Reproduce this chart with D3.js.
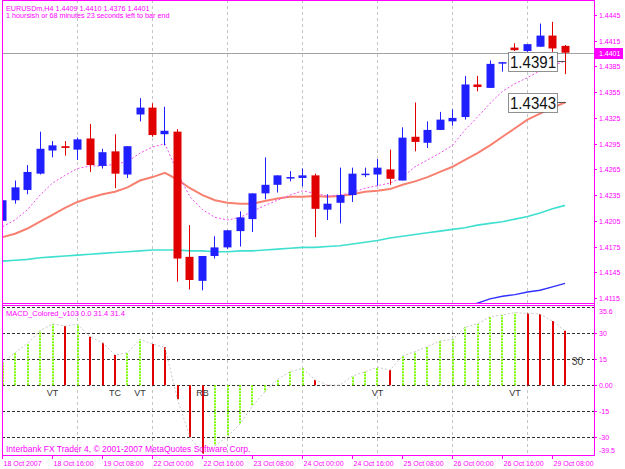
<!DOCTYPE html>
<html>
<head>
<meta charset="utf-8">
<script src="https://cdn.jsdelivr.net/npm/d3@7"></script>
<style>
body { margin: 0; background: #fff; }
text { font-family: "Liberation Sans", Arial, sans-serif; }
</style>
</head>
<body>
<svg width="625" height="469"></svg>
<script>
// EURUSDm H4, 18 Oct 2007 00:00 .. 29 Oct 2007 12:00 (46 bars)
var opens  = [1.4205,1.4229,1.4241,1.4260,1.4287,1.4292,1.4288,1.4301,1.4269,1.4286,1.4259,1.4329,1.4337,1.4306,1.4309,1.4163,1.4135,1.4164,1.4174,1.4193,1.4207,1.4237,1.4247,1.4255,1.4255,1.4258,1.4218,1.4226,1.4235,1.4259,1.4259,1.4265,1.4252,1.4303,1.4296,1.4311,1.4321,1.4326,1.4364,1.4360,1.4389,1.4407,1.4403,1.4408,1.4421,1.4409]
var highs  = [1.4234,1.4252,1.4270,1.4309,1.4298,1.4298,1.4302,1.4318,1.4289,1.4306,1.4292,1.4348,1.4342,1.4338,1.4312,1.4200,1.4164,1.4187,1.4194,1.4216,1.4237,1.4279,1.4258,1.4263,1.4266,1.4260,1.4236,1.4267,1.4267,1.4267,1.4277,1.4288,1.4314,1.4343,1.4321,1.4332,1.4335,1.4374,1.4374,1.4392,1.4390,1.4412,1.4411,1.4435,1.4437,1.4410]
var lows   = [1.4200,1.4225,1.4236,1.4259,1.4279,1.4281,1.4276,1.4262,1.4266,1.4243,1.4255,1.4321,1.4303,1.4293,1.4134,1.4125,1.4124,1.4161,1.4172,1.4175,1.4192,1.4230,1.4238,1.4251,1.4245,1.4186,1.4206,1.4202,1.4227,1.4256,1.4246,1.4247,1.4252,1.4286,1.4290,1.4311,1.4316,1.4323,1.4356,1.4360,1.4379,1.4403,1.4402,1.4408,1.4402,1.4376]
var closes = [1.4229,1.4244,1.4262,1.4289,1.4293,1.4290,1.4300,1.4270,1.4285,1.4260,1.4292,1.4337,1.4305,1.4310,1.4161,1.4136,1.4164,1.4174,1.4194,1.4209,1.4237,1.4247,1.4258,1.4256,1.4258,1.4219,1.4225,1.4235,1.4260,1.4260,1.4267,1.4254,1.4302,1.4297,1.4311,1.4323,1.4325,1.4364,1.4361,1.4388,1.4390,1.4404,1.4411,1.4421,1.4406,1.4401]

// moving averages
var maFast = [1.4198,1.4206,1.4218,1.4235,1.4249,1.4258,1.4266,1.4269,1.4269,1.4271,1.4274,1.4284,1.4291,1.4295,1.4261,1.4233,1.4218,1.4209,1.4206,1.4209,1.4216,1.4223,1.4229,1.4235,1.4240,1.4237,1.4234,1.4235,1.4238,1.4243,1.4246,1.4249,1.4256,1.4268,1.4276,1.4284,1.4293,1.4311,1.4326,1.4342,1.4356,1.4365,1.4372,1.4380,1.4386,1.4391]
var maMid  = [1.4186,1.4190,1.4196,1.4204,1.4212,1.4220,1.4227,1.4232,1.4236,1.4239,1.4244,1.4252,1.4256,1.4261,1.4253,1.4243,1.4235,1.4229,1.4226,1.4225,1.4225,1.4228,1.4231,1.4233,1.4233,1.4234,1.4233,1.4234,1.4236,1.4239,1.4240,1.4242,1.4247,1.4251,1.4256,1.4262,1.4268,1.4276,1.4284,1.4293,1.4303,1.4313,1.4323,1.4330,1.4337,1.4343]
var maSlow = [1.4158,1.4159,1.4160,1.4162,1.4163,1.4164,1.4165,1.4166,1.4167,1.4168,1.4169,1.4170,1.4171,1.4171,1.4171,1.4170,1.4170,1.4169,1.4169,1.4170,1.4170,1.4171,1.4172,1.4173,1.4174,1.4174,1.4175,1.4176,1.4178,1.4180,1.4182,1.4185,1.4187,1.4189,1.4191,1.4193,1.4195,1.4197,1.4200,1.4202,1.4204,1.4207,1.4210,1.4214,1.4219,1.4223]
var maLong = [null,null,null,null,null,null,null,null,null,null,null,null,null,null,null,null,null,null,null,null,null,null,null,null,null,null,null,null,null,null,null,null,null,null,null,null,1.4100,1.4104,1.4109,1.4114,1.4117,1.4119,1.4122,1.4124,1.4128,1.4132]

// MACD_Colored histogram
var macd = [13.0,18.8,24.2,31.5,35.4,34.2,35.2,28.0,24.6,17.5,18.8,26.5,23.8,21.9,-8.1,-30.0,-39.5,-34.8,-29.6,-22.3,-11.9,-3.7,3.5,7.8,9.8,3.1,0.2,0.1,5.4,7.8,10.4,8.8,16.9,19.4,22.3,25.6,26.5,33.5,35.4,39.6,40.6,41.9,41.5,41.1,37.1,31.5]
var macdLevels = [45, 30, 15, 0, -15, -30]
var macdTicks = [30, 15, 0, -15, -30]
var macdTickText = ["30", "15", "0.00", "-15", "-30"]
var signalIdx = [4, 9, 11, 16, 30, 41]
var signalText = ["VT", "TC", "VT", "RB", "VT", "VT"]

var priceTicks = [1.4445,1.4415,1.4385,1.4355,1.4325,1.4295,1.4265,1.4235,1.4205,1.4175,1.4145,1.4115]
var timeIdx = [0,4,8,12,16,20,24,28,32,36,40,44]
var timeText = ["18 Oct 2007","18 Oct 16:00","19 Oct 08:00","22 Oct 00:00","22 Oct 16:00","23 Oct 08:00","24 Oct 00:00","24 Oct 16:00","25 Oct 08:00","26 Oct 00:00","26 Oct 16:00","29 Oct 08:00"]
var gridIdx = [6,12,18,24,30,36,42]
var lastPrice = 1.4401

var pink = "#f0f", blueC = "#1f1fff", redC = "#e00000", greenC = "#7cfc00"

var svg = d3.select("svg")
svg.append("rect").attr("width", 625).attr("height", 469).attr("fill", "#fff")

var x = d3.scaleLinear().domain([0, 45]).range([2.5, 565])
var y = d3.scaleLinear().domain([1.4115, 1.4445]).range([298, 15])
var ym = d3.scaleLinear().domain([-30, 30]).range([437.3, 333.3])

var defs = svg.append("defs")
defs.append("clipPath").attr("id", "cmain").append("rect").attr("x", 2.5).attr("y", 0).attr("width", 591.5).attr("height", 303)
defs.append("clipPath").attr("id", "cmacd").append("rect").attr("x", 2.5).attr("y", 305).attr("width", 591.5).attr("height", 150.5)

// vertical grid
svg.append("g").selectAll("line").data(gridIdx).enter().append("line")
    .attr("x1", d => Math.floor(x(d)) + 0.5).attr("x2", d => Math.floor(x(d)) + 0.5)
    .attr("y1", 0).attr("y2", 455)
    .attr("stroke", "#c4c4c4").attr("stroke-dasharray", "3,3")

// ---- main panel
var mainG = svg.append("g").attr("clip-path", "url(#cmain)")

mainG.append("line").attr("x1", 2).attr("x2", 594)
    .attr("y1", Math.round(y(lastPrice)) + 0.5).attr("y2", Math.round(y(lastPrice)) + 0.5)
    .attr("stroke", "#a0a4a8")

function maLine(arr, color, w, dash) {
    var line = d3.line().defined(d => d != null).x((d, i) => x(i)).y(d => y(d))
    mainG.append("path").attr("d", line(arr)).attr("fill", "none")
        .attr("stroke", color).attr("stroke-width", w)
        .attr("stroke-dasharray", dash)
}
maLine(maSlow, "#40e0d0", 1.6, null)
maLine(maLong, "#3030ff", 1.4, null)
maLine(maMid, "#f88070", 2, null)
maLine(maFast, "#f050f0", 1, "2,2")

var candles = mainG.append("g")
opens.forEach((o, i) => {
    var c = closes[i]
    var col = c >= o ? blueC : redC
    var cx = Math.floor(x(i))
    candles.append("line").attr("x1", cx + 0.5).attr("x2", cx + 0.5)
        .attr("y1", y(highs[i])).attr("y2", y(lows[i])).attr("stroke", col)
    var top = y(Math.max(o, c)), h = Math.max(1.5, y(Math.min(o, c)) - top)
    candles.append("rect").attr("x", cx - 3.5).attr("y", top).attr("width", 8).attr("height", h)
        .attr("fill", col)
})

// value boxes for the two MAs
var boxes = [maFast[45], maMid[45]]
boxes.forEach(v => {
    var yy = y(v)
    mainG.append("line").attr("x1", 557).attr("x2", 566).attr("y1", Math.round(yy) + 0.5).attr("y2", Math.round(yy) + 0.5)
        .attr("stroke", "#555")
    mainG.append("rect").attr("x", 508.5).attr("y", Math.round(yy) - 8.5).attr("width", 49).attr("height", 19)
        .attr("fill", "#fff").attr("stroke", "#222").attr("stroke-dasharray", "1,1")
    mainG.append("text").attr("x", 510).attr("y", Math.round(yy) + 7)
        .attr("font-size", 17).attr("textLength", 46).attr("lengthAdjust", "spacingAndGlyphs")
        .attr("fill", "#111").text(v.toFixed(4))
})

// ---- MACD panel
var macdG = svg.append("g").attr("clip-path", "url(#cmacd)")
macdG.selectAll(".lvl").data(macdLevels).enter().append("line")
    .attr("x1", 2).attr("x2", 594)
    .attr("y1", d => Math.round(ym(d)) + 0.5).attr("y2", d => Math.round(ym(d)) + 0.5)
    .attr("stroke", "#333").attr("stroke-dasharray", "3,2")

macdG.selectAll(".bar").data(macd).enter().append("line")
    .attr("x1", (d, i) => Math.round(x(i))).attr("x2", (d, i) => Math.round(x(i)))
    .attr("y1", ym(0)).attr("y2", d => ym(d))
    .attr("stroke-width", 2)
    .attr("stroke", (d, i) => (i == 0 || d >= macd[i - 1]) ? greenC : redC)
    .attr("stroke-dasharray", (d, i) => (i == 0 || d >= macd[i - 1]) ? "2,1" : null)

macdG.append("path").attr("d", d3.line().x((d, i) => x(i)).y(d => ym(d))(macd))
    .attr("fill", "none").attr("stroke", "#c8c8c8").attr("stroke-dasharray", "2,2")

macdG.selectAll(".sig").data(signalIdx).enter().append("text")
    .attr("x", d => x(d)).attr("y", 395.5).attr("text-anchor", "middle")
    .attr("font-size", 9).attr("fill", "#333")
    .text((d, i) => signalText[i])

macdG.append("text").attr("x", 577.5).attr("y", 365).attr("text-anchor", "middle")
    .attr("font-size", 10.5).attr("fill", "#444").text("30")

// ---- frame and axes
var frame = svg.append("g").attr("stroke", pink).attr("fill", "none")
frame.append("line").attr("x1", 2.5).attr("x2", 2.5).attr("y1", 0).attr("y2", 456)
frame.append("line").attr("x1", 594.5).attr("x2", 594.5).attr("y1", 0).attr("y2", 456)
frame.append("line").attr("x1", 2).attr("x2", 595).attr("y1", 0.5).attr("y2", 0.5)
frame.append("line").attr("x1", 2).attr("x2", 595).attr("y1", 303.5).attr("y2", 303.5)
frame.append("line").attr("x1", 2).attr("x2", 595).attr("y1", 305.5).attr("y2", 305.5)
frame.append("line").attr("x1", 2).attr("x2", 595).attr("y1", 455.5).attr("y2", 455.5)

// price axis
var pax = svg.append("g")
priceTicks.forEach(v => {
    var yy = Math.round(y(v)) + 0.5
    pax.append("line").attr("x1", 594).attr("x2", 597).attr("y1", yy).attr("y2", yy).attr("stroke", pink)
    pax.append("text").attr("x", 599).attr("y", yy + 2.5).attr("font-size", 7).attr("fill", pink).text(v.toFixed(4))
})
var ly = Math.round(y(lastPrice))
pax.append("rect").attr("x", 594).attr("y", ly - 5).attr("width", 29).attr("height", 11).attr("fill", pink)
pax.append("text").attr("x", 599).attr("y", ly + 3).attr("font-size", 7).attr("fill", "#fff").text(lastPrice.toFixed(4))

// macd axis
macdTicks.forEach((v, i) => {
    var yy = Math.round(ym(v)) + 0.5
    pax.append("line").attr("x1", 594).attr("x2", 597).attr("y1", yy).attr("y2", yy).attr("stroke", pink)
    pax.append("text").attr("x", 599).attr("y", yy + 2.5).attr("font-size", 7).attr("fill", pink).text(macdTickText[i])
})
pax.append("text").attr("x", 599).attr("y", 313.5).attr("font-size", 7).attr("fill", pink).text("35.6")
pax.append("text").attr("x", 599).attr("y", 453).attr("font-size", 7).attr("fill", pink).text("-39.5")

// time axis
timeIdx.forEach((d, i) => {
    var xx = Math.floor(x(d)) + 0.5
    pax.append("line").attr("x1", xx).attr("x2", xx).attr("y1", 456).attr("y2", 459).attr("stroke", pink)
    pax.append("text").attr("x", xx + 1).attr("y", 466).attr("font-size", 7).attr("fill", pink).text(timeText[i])
})

// header texts
svg.append("text").attr("x", 6).attr("y", 10.5).attr("font-size", 7.2).attr("fill", pink)
    .text("EURUSDm,H4  1.4409 1.4410 1.4376 1.4401")
svg.append("text").attr("x", 6).attr("y", 18).attr("font-size", 7.2).attr("fill", pink)
    .text("1 hoursish or 68 minutes 23 seconds left to bar end")
svg.append("text").attr("x", 6).attr("y", 315.5).attr("font-size", 7.5).attr("fill", pink)
    .text("MACD_Colored_v103 0.0 31.4 31.4")
svg.append("text").attr("x", 6).attr("y", 451.5).attr("font-size", 8.5).attr("fill", pink)
    .text("Interbank FX Trader 4, \u00a9 2001-2007 MetaQuotes Software Corp.")
</script>
</body>
</html>
